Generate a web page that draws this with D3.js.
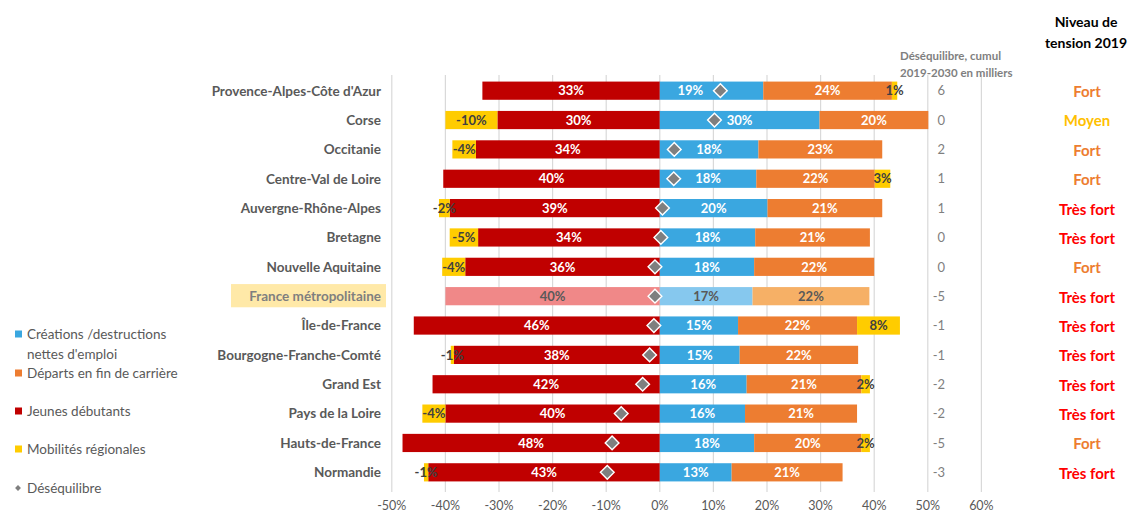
<!DOCTYPE html>
<html>
<head>
<meta charset="utf-8">
<script src="https://cdn.jsdelivr.net/npm/d3@7"></script>
<style>
  body { margin: 0; background: #fff; }
  svg { font-family: Lato, "Liberation Sans", sans-serif; }
</style>
</head>
<body>
<div id="chart"></div>
<script>
// values in %
var regions = ["Provence-Alpes-Côte d'Azur", "Corse", "Occitanie", "Centre-Val de Loire",
  "Auvergne-Rhône-Alpes", "Bretagne", "Nouvelle Aquitaine", "France métropolitaine",
  "Île-de-France", "Bourgogne-Franche-Comté", "Grand Est", "Pays de la Loire",
  "Hauts-de-France", "Normandie"];
var jeunes = [33.1, 30.3, 34.3, 40.4, 39.2, 33.9, 36.3, 40.0, 45.9, 38.4, 42.4, 40.0, 48.0, 43.2];
var mobilites = [1.0, -9.7, -4.4, 2.9, -2.0, -5.3, -4.3, 0, 8.0, -0.6, 1.6, -4.3, 1.6, -0.8];
var creations = [19.3, 29.8, 18.4, 18.0, 20.1, 17.8, 17.6, 17.3, 14.6, 14.9, 16.2, 15.9, 17.6, 13.4];
var departs = [24.0, 20.3, 23.1, 22.1, 21.4, 21.4, 22.4, 21.8, 22.2, 22.1, 21.4, 20.9, 20.0, 20.7];
var desequilibre = [11.3, 10.2, 2.7, 2.6, 0.5, 0.2, -0.9, -0.9, -1.1, -1.9, -3.2, -7.2, -8.9, -9.8];
var cumulMilliers = [6, 0, 2, 1, 1, 0, 0, -5, -1, -1, -2, -2, -5, -3];
var tension = ["Fort", "Moyen", "Fort", "Fort", "Très fort", "Très fort", "Fort", "Très fort",
  "Très fort", "Très fort", "Très fort", "Très fort", "Fort", "Très fort"];
var ticks = [-50, -40, -30, -20, -10, 0, 10, 20, 30, 40, 50, 60];

var colors = { blue: "#3AA7E0", orange: "#ED7D31", red: "#C00000", yellow: "#FFCC00" };
var light = { blue: "#86C8EE", orange: "#F6B066", red: "#F08888" };
var tensionColors = { "Fort": "#ED7D31", "Moyen": "#FFC000", "Très fort": "#FF0000" };
var grey = "#595959";
var france = "France métropolitaine";

var svg = d3.select("#chart").append("svg")
  .attr("width", 1128)
  .attr("height", 514);

var x = d3.scaleLinear().domain([-50, 60]).range([391.8, 981.4]);
var y = d3.scaleBand().domain(regions).range([76, 487]).paddingInner(0.38).paddingOuter(0.19);

// gridlines
svg.append("g").selectAll("line")
  .data(ticks)
  .enter().append("line")
  .attr("x1", function(d) { return x(d); })
  .attr("x2", function(d) { return x(d); })
  .attr("y1", 75).attr("y2", 492)
  .attr("stroke", "#D9D9D9")
  .attr("stroke-width", 1.2);

// tick labels
svg.append("g").selectAll("text")
  .data(ticks)
  .enter().append("text")
  .attr("x", function(d) { return x(d); })
  .attr("y", 510)
  .attr("text-anchor", "middle")
  .attr("font-size", 12.5)
  .attr("fill", grey)
  .text(function(d) { return d + "%"; });

// build segments
var segs = [];
regions.forEach(function(r, i) {
  var isFr = r === france;
  var c = isFr ? light : colors;
  segs.push({ r: r, i: i, x0: -jeunes[i], x1: 0, fill: c.red, label: Math.round(jeunes[i]) + "%", txt: isFr ? grey : "#fff" });
  segs.push({ r: r, i: i, x0: 0, x1: creations[i], fill: c.blue, label: Math.round(creations[i]) + "%", txt: isFr ? grey : "#fff" });
  segs.push({ r: r, i: i, x0: creations[i], x1: creations[i] + departs[i], fill: c.orange, label: Math.round(departs[i]) + "%", txt: isFr ? grey : "#fff" });
  var m = mobilites[i];
  if (m > 0) {
    var s = creations[i] + departs[i];
    segs.push({ r: r, i: i, x0: s, x1: s + m, fill: colors.yellow, label: Math.round(m) + "%", txt: "#404040" });
  } else if (m < 0) {
    segs.push({ r: r, i: i, x0: -jeunes[i] + m, x1: -jeunes[i], fill: colors.yellow, label: "-" + Math.round(-m) + "%", txt: "#404040" });
  }
});

// label x: centred, moved aside when the diamond sits on it
function labelX(d) {
  var cx = (x(d.x0) + x(d.x1)) / 2;
  var dx = x(desequilibre[d.i]);
  if (Math.abs(dx - cx) < 15) cx = dx - 30;
  return cx;
}

svg.append("g").selectAll("rect")
  .data(segs)
  .enter().append("rect")
  .attr("x", function(d) { return x(d.x0); })
  .attr("width", function(d) { return x(d.x1) - x(d.x0); })
  .attr("y", function(d) { return y(d.r); })
  .attr("height", y.bandwidth())
  .attr("fill", function(d) { return d.fill; });

svg.append("g").selectAll("text")
  .data(segs)
  .enter().append("text")
  .attr("x", labelX)
  .attr("y", function(d) { return y(d.r) + y.bandwidth() / 2; })
  .attr("dy", "0.36em")
  .attr("text-anchor", "middle")
  .attr("font-size", 13)
  .attr("font-weight", "bold")
  .attr("fill", function(d) { return d.txt; })
  .text(function(d) { return d.label; });

// diamonds
svg.append("g").selectAll("path")
  .data(regions)
  .enter().append("path")
  .attr("d", d3.symbol().type(d3.symbolDiamond2).size(120))
  .attr("transform", function(d, i) { return "translate(" + x(desequilibre[i]) + "," + (y(d) + y.bandwidth() / 2) + ")"; })
  .attr("fill", "#7F7F7F")
  .attr("stroke", "#fff")
  .attr("stroke-width", 1.4);

// highlight France label
svg.append("rect")
  .attr("x", 231).attr("y", y(france) - 3)
  .attr("width", 155).attr("height", y.bandwidth() + 5)
  .attr("fill", "#FFE9A8");

// category labels
svg.append("g").selectAll("text")
  .data(regions)
  .enter().append("text")
  .attr("x", 381)
  .attr("y", function(d) { return y(d) + y.bandwidth() / 2; })
  .attr("dy", "0.36em")
  .attr("text-anchor", "end")
  .attr("font-size", 13.5)
  .attr("font-weight", "bold")
  .attr("fill", function(d) { return d === france ? "#7F7F7F" : grey; })
  .text(function(d) { return d; });

// cumul column
svg.append("text").attr("x", 900).attr("y", 60).attr("font-size", 11.5).attr("font-weight", "bold")
  .attr("fill", "#7F7F7F").text("Déséquilibre, cumul");
svg.append("text").attr("x", 900).attr("y", 77).attr("font-size", 11.5).attr("font-weight", "bold")
  .attr("fill", "#7F7F7F").text("2019-2030 en milliers");

svg.append("g").selectAll("text")
  .data(regions)
  .enter().append("text")
  .attr("x", 945)
  .attr("y", function(d) { return y(d) + y.bandwidth() / 2; })
  .attr("dy", "0.36em")
  .attr("text-anchor", "end")
  .attr("font-size", 13)
  .attr("fill", "#7F7F7F")
  .text(function(d, i) { return cumulMilliers[i]; });

// tension column
svg.append("text").attr("x", 1086).attr("y", 27).attr("text-anchor", "middle")
  .attr("font-size", 14).attr("font-weight", "bold").attr("fill", "#000").text("Niveau de");
svg.append("text").attr("x", 1086).attr("y", 48).attr("text-anchor", "middle")
  .attr("font-size", 14).attr("font-weight", "bold").attr("fill", "#000").text("tension 2019");

svg.append("g").selectAll("text")
  .data(regions)
  .enter().append("text")
  .attr("x", 1087)
  .attr("y", function(d) { return y(d) + y.bandwidth() / 2 + 1; })
  .attr("dy", "0.36em")
  .attr("text-anchor", "middle")
  .attr("font-size", 15)
  .attr("font-weight", "bold")
  .attr("fill", function(d, i) { return tensionColors[tension[i]]; })
  .text(function(d, i) { return tension[i]; });

// legend
var legend = [
  { c: colors.blue, lines: ["Créations /destructions", "nettes d'emploi"], y: 334 },
  { c: colors.orange, lines: ["Départs en fin de carrière"], y: 373 },
  { c: colors.red, lines: ["Jeunes débutants"], y: 411 },
  { c: colors.yellow, lines: ["Mobilités régionales"], y: 449 }
];
var lg = svg.append("g").selectAll("g")
  .data(legend)
  .enter().append("g");
lg.append("rect")
  .attr("x", 15).attr("y", function(d) { return d.y - 3.5; })
  .attr("width", 7).attr("height", 7)
  .attr("fill", function(d) { return d.c; });
lg.each(function(d) {
  var g = d3.select(this);
  d.lines.forEach(function(t, k) {
    g.append("text")
      .attr("x", 27).attr("y", d.y + k * 20)
      .attr("dy", "0.36em")
      .attr("font-size", 13.5)
      .attr("fill", grey)
      .text(t);
  });
});
svg.append("path")
  .attr("d", d3.symbol().type(d3.symbolDiamond2).size(22))
  .attr("transform", "translate(18,488)")
  .attr("fill", "#7F7F7F");
svg.append("text").attr("x", 27).attr("y", 488).attr("dy", "0.36em")
  .attr("font-size", 13.5).attr("fill", grey).text("Déséquilibre");
</script>
</body>
</html>
